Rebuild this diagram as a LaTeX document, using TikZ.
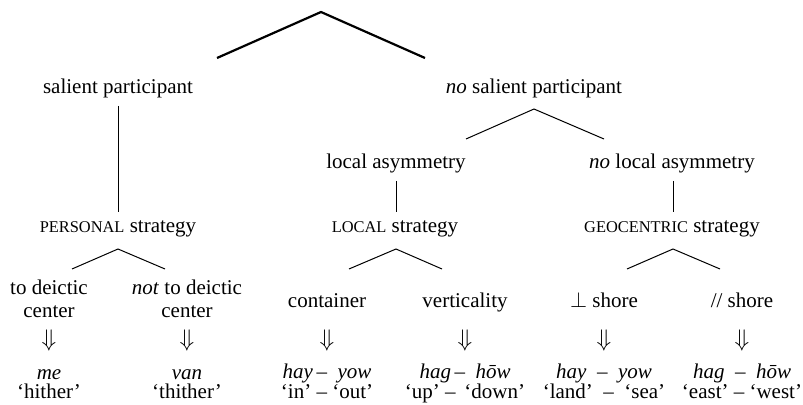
\documentclass[tikz,border=0pt]{standalone}
\usepackage{fontspec}
\setmainfont{Liberation Serif}
\newcommand\mysc[1]{{\fontsize{8.2}{9}\selectfont #1}}
\begin{document}
\begin{tikzpicture}[x=0.5pt,y=-0.5pt,
  lbl/.style={inner sep=0pt, anchor=base, font=\fontsize{10.5}{11.5}\selectfont, align=center},
  darr/.style={inner sep=0pt, anchor=center, font=\fontsize{12.5}{13.5}\selectfont},
  rootline/.style={line width=1.1pt},
  treeline/.style={line width=0.5pt}]
\useasboundingbox (0,0) rectangle (803,405);

% labels
\node[lbl] (sp) at (118,94) {salient participant};
\node[lbl] (nsp) at (534,94) {\textit{no} salient participant};
\node[lbl] (la) at (396,169) {local asymmetry};
\node[lbl] (nla) at (672,169) {\textit{no} local asymmetry};
\node[lbl] (ps) at (118,233) {\mysc{PERSONAL} strategy};
\node[lbl] (ls) at (395,233) {\mysc{LOCAL} strategy};
\node[lbl] (gs) at (672,233) {\mysc{GEOCENTRIC} strategy};

\node[lbl] (tdc) at (49,318) {to deictic\\center};
\node[lbl] (ntdc) at (187,318) {\textit{not} to deictic\\center};
\node[lbl] (cont) at (327,308) {container};
\node[lbl] (vert) at (465,308) {verticality};
\node[lbl] (pshore) at (604,308) {$\perp$ shore};
\node[lbl] (pashore) at (742,308) {// shore};

\node[darr] (d1) at (49,341) {$\Downarrow$};
\node[darr] (d2) at (187,341) {$\Downarrow$};
\node[darr] (d3) at (327,341) {$\Downarrow$};
\node[darr] (d4) at (465,341) {$\Downarrow$};
\node[darr] (d5) at (604,341) {$\Downarrow$};
\node[darr] (d6) at (742,341) {$\Downarrow$};

\node[lbl] (w1) at (49,399) {\textit{me}\\[-2pt]`hither'};
\node[lbl] (w2) at (187,399) {\textit{van}\\[-2pt]`thither'};
\node[lbl] (w3) at (327,399) {\textit{hay}\,--\ \ \textit{yow}\\[-1.5pt]`in' -- `out'};
\node[lbl] (w4) at (465,399) {\textit{hag}\,--\ \ \textit{hōw}\\[-1.5pt]`up' -- \,`down'};
\node[lbl] (w5) at (604,399) {\textit{hay}\ \ --\ \ \textit{yow}\\[-1.5pt]`land'\ \ --\ \ `sea'};
\node[lbl] (w6) at (742,399) {\textit{hag}\ \ --\ \ \textit{hōw}\\[-1.5pt]`east' -- `west'};

% tree lines
\coordinate (r0) at (321,12);
\coordinate (r1) at (217,58);
\coordinate (r2) at (425,58);
\draw[rootline] (r1) -- (r0) -- (r2);

\coordinate (sp1) at (118,106);
\coordinate (sp2) at (118,212);
\draw[treeline] (sp1) -- (sp2);

\coordinate (n0) at (534,109);
\coordinate (n1) at (466,139);
\coordinate (n2) at (604,139);
\draw[treeline] (n1) -- (n0) -- (n2);

\coordinate (la1) at (396,181);
\coordinate (la2) at (396,212);
\draw[treeline] (la1) -- (la2);
\coordinate (nla1) at (673,181);
\coordinate (nla2) at (673,212);
\draw[treeline] (nla1) -- (nla2);

\coordinate (p0) at (118,249);
\coordinate (p1) at (72,269);
\coordinate (p2) at (165,269);
\draw[treeline] (p1) -- (p0) -- (p2);

\coordinate (l0) at (396,249);
\coordinate (l1) at (349,269);
\coordinate (l2) at (442,269);
\draw[treeline] (l1) -- (l0) -- (l2);

\coordinate (g0) at (673,249);
\coordinate (g1) at (627,269);
\coordinate (g2) at (720,269);
\draw[treeline] (g1) -- (g0) -- (g2);
\end{tikzpicture}
\end{document}
